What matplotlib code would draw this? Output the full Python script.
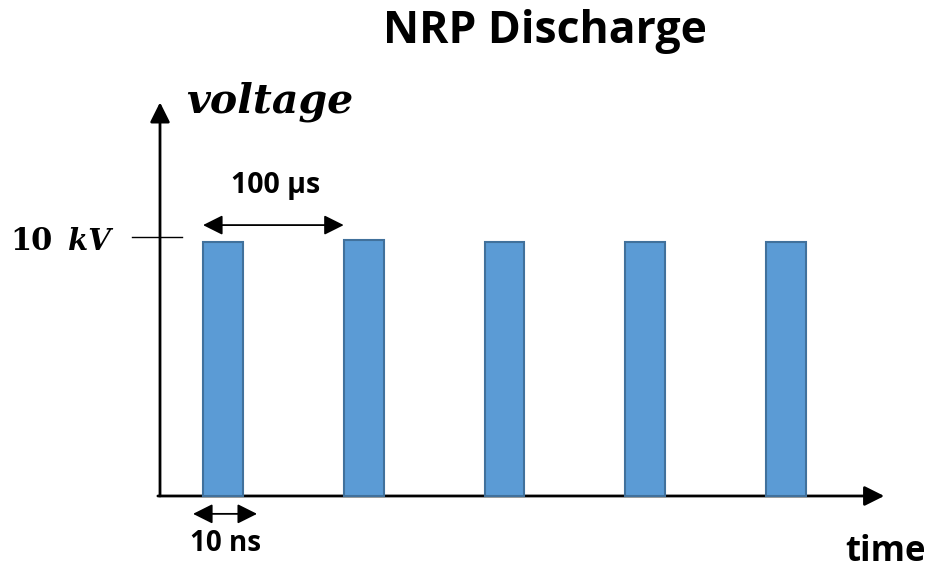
import matplotlib
matplotlib.use("Agg")
import matplotlib.pyplot as plt

# ---- data ----
pulse_index = [0, 1, 2, 3, 4]            # pulse number (period = 100 us)
pulse_voltage_kv = [9.8, 9.9, 9.8, 9.8, 9.8]
pulse_width = 0.284                      # in units of the 100 us period (drawn exaggerated)
tick_kv = 10
title = "NRP Discharge"
ylabel = "voltage"
xlabel = "time"
period_label = "100 \u00b5s"
width_label = "10 ns"

# ---- figure ----
fig = plt.figure(figsize=(9.32, 5.69), dpi=100)
ax = fig.add_axes([0, 0, 1, 1])
ax.set_xlim(-1.4423, 5.1794)
ax.set_ylim(-2.819, 19.151)
ax.axis("off")

bar_face = "#5B9BD5"
bar_edge = "#41719C"
ax.bar(pulse_index, pulse_voltage_kv, width=pulse_width, align="edge",
       color=bar_face, edgecolor=bar_edge, linewidth=1.5, zorder=3)

head = "-|>,head_length=0.6,head_width=0.3"
head2 = "<|-|>,head_length=0.6,head_width=0.3"

# axes arrows
x_origin = -0.3055
ax.annotate("", xy=(4.84, 0), xytext=(x_origin - 0.015, 0),
            arrowprops=dict(arrowstyle=head, mutation_scale=20,
                            color="black", lw=2, shrinkA=0, shrinkB=0), zorder=2)
ax.annotate("", xy=(x_origin, 15.2), xytext=(x_origin, 0),
            arrowprops=dict(arrowstyle=head, mutation_scale=20,
                            color="black", lw=2, shrinkA=0, shrinkB=0), zorder=2)

# tick at 10 kV
ax.plot([x_origin - 0.2, x_origin + 0.155], [tick_kv, tick_kv], color="black", lw=1)

# period arrow
ax.annotate("", xy=(pulse_index[1], 10.46), xytext=(pulse_index[0], 10.46),
            arrowprops=dict(arrowstyle=head2, mutation_scale=20,
                            color="black", lw=1.3, shrinkA=0, shrinkB=0))
# width arrow
ax.annotate("", xy=(0.384, -0.69), xytext=(-0.071, -0.69),
            arrowprops=dict(arrowstyle=head2, mutation_scale=20,
                            color="black", lw=1.3, shrinkA=0, shrinkB=0))

sans = ["Open Sans", "DejaVu Sans"]
serif = ["DejaVu Serif"]

fig.text(545 / 932, 1 - 43 / 569, title, ha="center", va="baseline", fontsize=32,
         fontweight="bold", family=sans)
fig.text(276 / 932, 1 - 193 / 569, period_label, ha="center", va="baseline",
         fontsize=20.5, fontweight="bold", family=sans)
fig.text(225 / 932, 1 - 551 / 569, width_label, ha="center", va="baseline",
         fontsize=20, fontweight="bold", family=sans)
fig.text(886 / 932, 1 - 561 / 569, xlabel, ha="center", va="baseline", fontsize=25,
         fontweight="bold", family=sans)
fig.text(186 / 932, 1 - 113 / 569, ylabel, ha="left", va="baseline", fontsize=29.5,
         fontweight="bold", style="italic", family=serif)
fig.text(10 / 932, 1 - 250 / 569, "10", ha="left", va="baseline", fontsize=22,
         fontweight="bold", family=serif)
fig.text(68 / 932, 1 - 250 / 569, "kV", ha="left", va="baseline", fontsize=21,
         fontweight="bold", style="italic", family=serif)

fig.savefig("out.png", dpi=100)
